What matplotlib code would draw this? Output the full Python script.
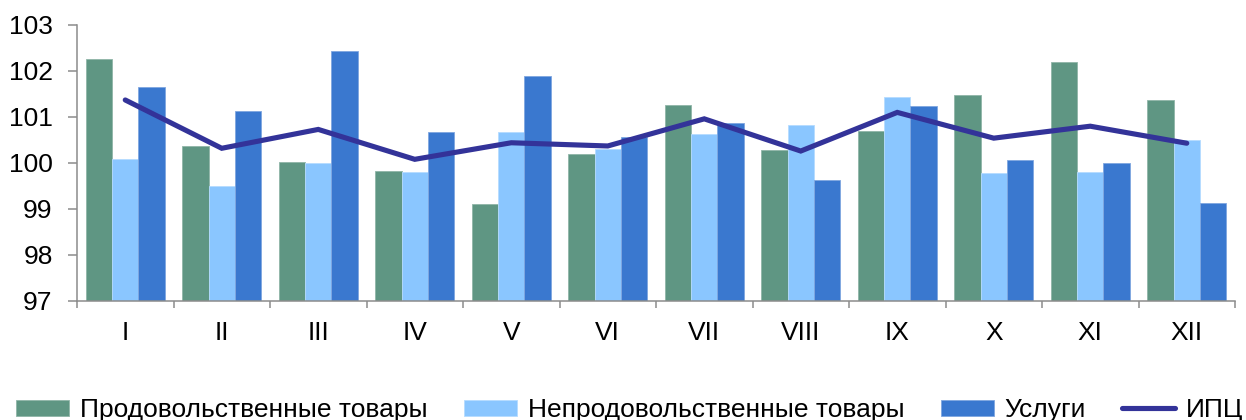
"""Monthly price indices: food, non-food, services bars plus CPI line."""

import matplotlib

matplotlib.use("Agg")
import matplotlib.pyplot as plt
from matplotlib.ticker import FixedLocator

plt.rcParams["font.family"] = ["Liberation Sans", "DejaVu Sans"]

MONTHS = ["I", "II", "III", "IV", "V", "VI", "VII", "VIII", "IX", "X", "XI", "XII"]
FOOD = [102.26, 100.36, 100.03, 99.83, 99.11, 100.20, 101.25, 100.29, 100.70, 101.48, 102.20, 101.36]
NONFOOD = [100.09, 99.51, 100.00, 99.80, 100.68, 100.30, 100.62, 100.83, 101.43, 99.79, 99.81, 100.49]
SERVICES = [101.65, 101.12, 102.43, 100.67, 101.89, 100.57, 100.88, 99.62, 101.23, 100.07, 99.99, 99.12]
CPI = [101.37, 100.32, 100.73, 100.08, 100.44, 100.37, 100.96, 100.26, 101.10, 100.54, 100.80, 100.43]

LABELS = ["Продовольственные товары", "Непродовольственные товары", "Услуги", "ИПЦ"]
COLORS = ["#5F9683", "#8AC6FF", "#3A78CF"]
EDGES = ["#8FB5A8", "#B5DBFF", "#7FA6E0"]
LINE_COLOR = "#333399"
AXIS_GRAY = "#8C8C8C"
FS = 19

fig = plt.figure(figsize=(12.46, 4.2), dpi=100)
ax = fig.add_axes([77 / 1246, 1 - 301 / 420, (1235 - 77) / 1246, 276 / 420])

x = list(range(len(MONTHS)))
w = 0.272
handles = []
for i, vals in enumerate([FOOD, NONFOOD, SERVICES]):
    b = ax.bar(
        [p + (i - 1) * w for p in x],
        [v - 97 for v in vals],
        w,
        bottom=97,
        color=COLORS[i],
        edgecolor=EDGES[i],
        linewidth=0.6,
        label=LABELS[i],
        zorder=2,
    )
    handles.append(b)

(ln,) = ax.plot(x, CPI, color=LINE_COLOR, linewidth=3.7, solid_capstyle="round",
                solid_joinstyle="miter", label=LABELS[3], zorder=3)
handles.append(ln)

ax.set_xlim(-0.5, len(MONTHS) - 0.5)
ax.set_ylim(97, 103)
ax.set_yticks(range(97, 104))
ax.set_xticks(x)
ax.set_xticklabels(MONTHS)
ax.xaxis.set_minor_locator(FixedLocator([p - 0.5 for p in range(len(MONTHS) + 1)]))

for side in ["top", "right"]:
    ax.spines[side].set_visible(False)
for side in ["left", "bottom"]:
    ax.spines[side].set_color(AXIS_GRAY)
    ax.spines[side].set_linewidth(1.1)

ax.tick_params(axis="x", which="major", length=0, pad=14.5, labelsize=FS)
ax.tick_params(axis="x", which="minor", length=5, width=1.1, color=AXIS_GRAY, direction="out")
ax.tick_params(axis="y", length=6.5, width=1.1, color=AXIS_GRAY, pad=11, labelsize=FS)

fig.legend(
    handles=handles,
    labels=LABELS,
    loc="upper left",
    bbox_to_anchor=(16 / 1246, 1 - 398 / 420),
    ncol=4,
    frameon=False,
    fontsize=FS,
    handlelength=2.0,
    handleheight=0.55,
    handletextpad=0.42,
    columnspacing=1.38,
    borderpad=0.0,
    borderaxespad=0.0,
)

fig.savefig("out.png", dpi=100)
